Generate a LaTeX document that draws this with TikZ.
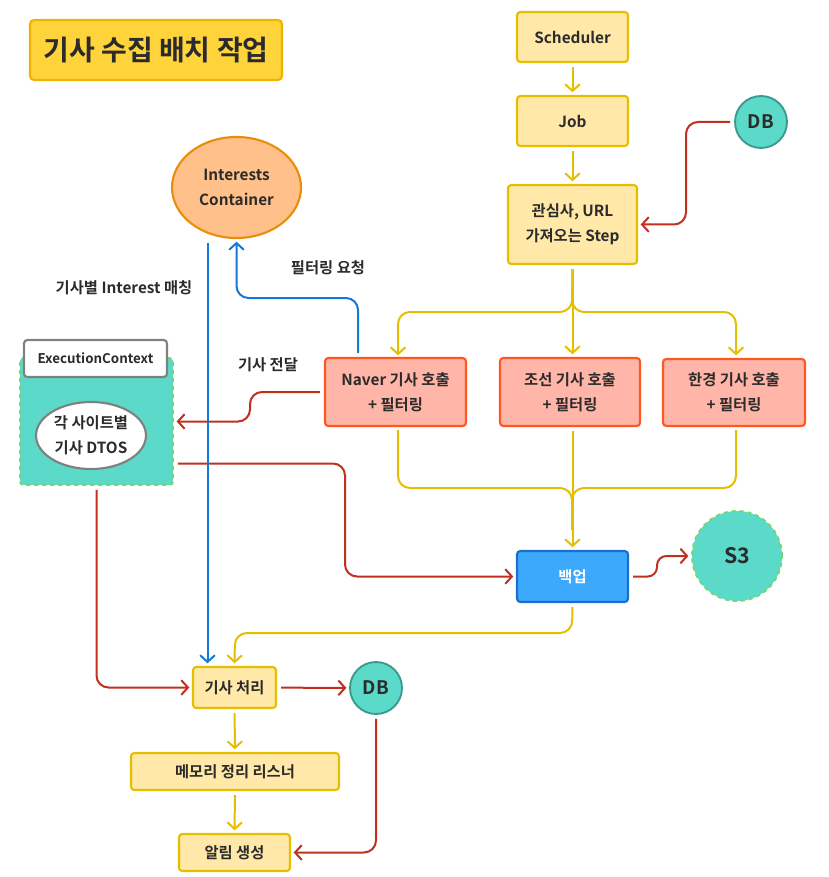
\documentclass[tikz,border=0pt]{standalone}
\usepackage{fontspec}
\setmainfont{Noto Sans CJK KR}[BoldFont={Noto Sans CJK KR Bold}]
\usetikzlibrary{arrows.meta,calc,shapes.geometric}

\definecolor{txt}{HTML}{2B2B2B}
\definecolor{yfill}{HTML}{FFE8A8}
\definecolor{ydraw}{HTML}{E6BE00}
\definecolor{tfill}{HTML}{FFD43B}
\definecolor{tdraw}{HTML}{F0B400}
\definecolor{rfill}{HTML}{FFB5A8}
\definecolor{rdraw}{HTML}{FF5722}
\definecolor{teal}{HTML}{5BD9C9}
\definecolor{tealdk}{HTML}{3A9A8E}
\definecolor{gdash}{HTML}{78D46E}
\definecolor{bfill}{HTML}{3DA9FC}
\definecolor{bdraw}{HTML}{1A6FCC}
\definecolor{oflll}{HTML}{FFC08A}
\definecolor{odraw}{HTML}{E88E0C}
\definecolor{redln}{HTML}{C0301E}
\definecolor{bluln}{HTML}{1279D8}

\begin{document}
\begin{tikzpicture}[x=0.75pt, y=-0.75pt,
  every node/.style={font=\fontsize{11.5}{19}\selectfont\bfseries, text=txt, align=center, inner sep=0pt},
  ybox/.style={draw=ydraw, fill=yfill, line width=1.6pt, rounded corners=2.5pt},
  rbox/.style={draw=rdraw, fill=rfill, line width=1.6pt, rounded corners=2.5pt},
  dbnode/.style={circle, draw=tealdk, fill=teal, line width=1.4pt, minimum size=39pt, font=\fontsize{14}{16}\selectfont\bfseries},
  tip/.style={-{Straight Barb[length=5pt,width=11pt,line width=1.5pt]}, line width=1.5pt, rounded corners=9pt, shorten >=2pt, shorten <=3pt},
  yarrow/.style={tip, draw=ydraw},
  rarrow/.style={tip, draw=redln},
  barrow/.style={tip, draw=bluln},
  ylink/.style={draw=ydraw, line width=1.5pt, rounded corners=9pt, shorten <=3pt},
  lbl/.style={font=\fontsize{11.5}{13}\selectfont\bfseries}]
  \useasboundingbox (0,0) rectangle (828,877);

  % title
  \node[draw=tdraw, fill=tfill, line width=1.6pt, rounded corners=3pt,
        minimum width=189pt, minimum height=45pt,
        font=\fontsize{21}{24}\selectfont\bfseries] (title) at (156,50) {기사 수집 배치 작업};

  % batch chain
  \node[ybox, minimum width=83.25pt, minimum height=37.5pt] (sched) at (572.5,37) {Scheduler};
  \node[ybox, minimum width=83.25pt, minimum height=37.5pt] (job) at (572.5,121) {Job};
  \node[ybox, minimum width=96.75pt, minimum height=59.25pt] (step) at (572.5,224.5) {관심사, URL\\가져오는 Step};
  \node[dbnode] (dbtop) at (761,122) {DB};

  % crawlers
  \node[rbox, minimum width=105.75pt, minimum height=51pt] (naver) at (395.5,392) {Naver 기사 호출\\+ 필터링};
  \node[rbox, minimum width=105pt, minimum height=51pt] (chosun) at (570,392) {조선 기사 호출\\+ 필터링};
  \node[rbox, minimum width=106.5pt, minimum height=50.25pt] (hankyung) at (734,392.5) {한경 기사 호출\\+ 필터링};

  \node[draw=bdraw, fill=bfill, line width=1.6pt, rounded corners=2.5pt,
        minimum width=83.25pt, minimum height=38.25pt, text=white] (backup) at (572.5,576.5) {백업};
  \node[circle, draw=gdash, dashed, fill=teal, line width=1.4pt, minimum size=67.5pt,
        font=\fontsize{16}{18}\selectfont\bfseries] (s3) at (737,556) {S3};

  % interests + context
  \node[ellipse, draw=odraw, fill=oflll, line width=1.6pt,
        minimum width=96.75pt, minimum height=75.75pt] (interests) at (236.5,187.5) {Interests\\Container};
  \node[draw=gdash, dashed, fill=teal, line width=1.4pt, rounded corners=2.5pt,
        minimum width=114.75pt, minimum height=95.25pt] (ctx) at (96.5,421.5) {};
  \node[draw=gray, fill=white, line width=1.6pt, rounded corners=2.5pt,
        minimum width=107.25pt, minimum height=27.75pt,
        font=\fontsize{10}{11}\selectfont\bfseries] (ctxlabel) at (95.5,358.5) {ExecutionContext};
  \node[ellipse, draw=gray, fill=white, line width=1.6pt,
        minimum width=82.5pt, minimum height=50.25pt] (dtos) at (91,435.5) {각 사이트별\\기사 DTOS};

  % processing
  \node[ybox, minimum width=62.25pt, minimum height=30.75pt] (proc) at (234.5,687.5) {기사 처리};
  \node[dbnode] (dbbot) at (376,688) {DB};
  \node[ybox, minimum width=156pt, minimum height=27.75pt] (memory) at (235,771.5) {메모리 정리 리스너};
  \node[ybox, minimum width=83.25pt, minimum height=27.75pt] (alert) at (234.5,852.5) {알림 생성};

  % edge labels
  \node[lbl] (lblmatch) at (124,288) {기사별 Interest 매칭};
  \node[lbl] (lblfilter) at (328,268) {필터링 요청};
  \node[lbl] (lblpass) at (268,365) {기사 전달};

  % yellow flow
  \draw[yarrow] (sched) -- (job);
  \draw[yarrow] (job) -- (step);
  \draw[yarrow] (step.south) -- (572,312) -- (398,312) -- (398,358);
  \draw[yarrow] (step.south) -- (chosun.north -| step.south);
  \draw[yarrow] (step.south) -- (572,312) -- (736,312) -- (736,358);
  \draw[ylink] (398,426) -- (398,488) -- (572,488) -- (572,530);
  \draw[ylink] (736,426) -- (736,488) -- (572,488) -- (572,530);
  \draw[yarrow] (chosun.south -| backup.north) -- (backup.north);
  \draw[yarrow] (backup.south) -- (572,633) -- (235,633) -- (proc.north);
  \draw[yarrow] (proc) -- (memory);
  \draw[yarrow] (memory) -- (alert);

  % red flow
  \draw[rarrow] (dbtop.west) -- (686,122) -- (686,224.5) -- (step.east);
  \draw[rarrow] (naver.west) -- (250,392) -- (250,421.5) -- (ctx.east);
  \draw[rarrow] ($(ctx.east)+(0,42)$) -- (345,463.5) -- (345,576.5) -- (backup.west);
  \draw[rarrow] (ctx.south) |- (proc.west);
  \draw[rarrow, rounded corners=7pt] (backup.east) -- (657,576.5) -- (657,556) -- (s3.west);
  \draw[rarrow] (proc) -- (dbbot);
  \draw[rarrow] (dbbot.south) |- (alert.east);

  % blue flow
  \draw[barrow] ($(naver.north)+(-37.5,0)$) -- (358,298) -- (236.5,298) -- (interests.south);
  \coordinate (matchx) at ($(proc.north)+(-27,0)$);
  \draw[barrow] (matchx |- interests.south) -- (matchx);
\end{tikzpicture}
\end{document}
